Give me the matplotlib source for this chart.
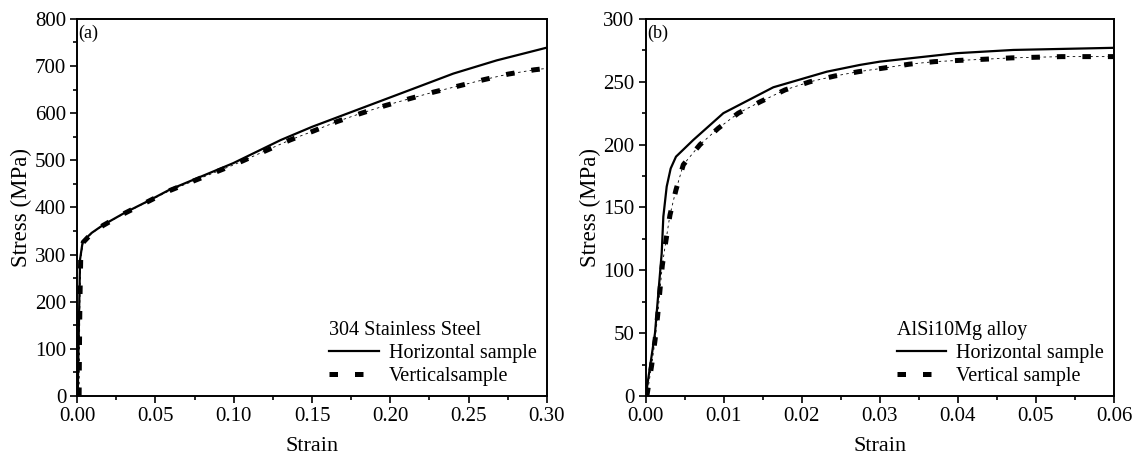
import matplotlib
matplotlib.use("Agg")
import matplotlib.pyplot as plt
from matplotlib.ticker import MultipleLocator, FormatStrFormatter

plt.rcParams["font.family"] = ["Liberation Serif", "DejaVu Serif"]
plt.rcParams["mathtext.fontset"] = "stix"

# === (a) 304 Stainless Steel ===
ss_h_strain = [0.0003, 0.0008, 0.0013, 0.0018, 0.0035, 0.0092, 0.0166, 0.0305, 0.0443,
               0.0592, 0.0997, 0.130, 0.150, 0.2148, 0.2403, 0.268, 0.300]
ss_h_stress = [0, 100, 200, 290, 328, 346, 363, 389, 412,
               438, 494, 543, 571, 652, 684, 712, 739]

ss_v_strain = [0.0012, 0.0014, 0.0017, 0.0022, 0.0038, 0.0092, 0.0166, 0.0305, 0.0443,
               0.0592, 0.0997, 0.1359, 0.1508, 0.1658, 0.1807, 0.1967, 0.2126, 0.228,
               0.244, 0.2597, 0.2755, 0.292, 0.300]
ss_v_stress = [0, 100, 200, 290, 326, 345, 362, 388, 411,
               436, 490, 543, 562, 582, 599, 616, 631, 645,
               658, 671, 683, 692, 695]

# === (b) AlSi10Mg alloy ===
al_h_strain = [0.0, 0.00119, 0.00205, 0.00226, 0.00269, 0.0032, 0.00388, 0.0061, 0.00995,
               0.01635, 0.0232, 0.02746, 0.030, 0.0398, 0.0471, 0.060]
al_h_stress = [0, 50, 113.6, 142.7, 166.6, 181, 190.4, 203.7, 225,
               245.6, 258, 263.4, 266, 272.7, 275.3, 277]

al_v_strain = [0.00015, 0.00077, 0.0012, 0.00154, 0.00183, 0.00213, 0.0026, 0.00311, 0.00388,
               0.00482, 0.00696, 0.0093, 0.01186, 0.01465, 0.01785, 0.02105, 0.02425,
               0.02725, 0.0306, 0.0338, 0.037, 0.0402, 0.0437, 0.0469, 0.0501, 0.0533,
               0.0565, 0.060]
al_v_stress = [0, 24.7, 44.6, 64.5, 84.4, 104, 124, 144, 164,
               184, 200, 213, 225, 234, 243.5, 250, 254.6,
               258, 261, 264, 266, 267, 268, 269, 269.5, 270,
               270, 270]

fig = plt.figure(figsize=(11.36, 4.61), dpi=100)
ax1 = fig.add_axes([0.0680, 0.141, 0.4133, 0.818])
ax2 = fig.add_axes([0.5684, 0.141, 0.4122, 0.818])


def style_axes(ax):
    for sp in ax.spines.values():
        sp.set_linewidth(1.4)
    ax.tick_params(which="both", direction="out", top=False, right=False,
                   labelsize=15, width=1.2, pad=3)
    ax.tick_params(which="major", length=5)
    ax.tick_params(which="minor", length=3)
    ax.set_xlabel("Strain", fontsize=16, labelpad=8)
    ax.set_ylabel("Stress (MPa)", fontsize=16.5, labelpad=2)


def draw_pair(ax, hx, hy, vx, vy, h_label, v_label, title):
    ax.plot(hx, hy, color="black", lw=1.6, label=h_label, zorder=3)
    ax.plot(vx, vy, color="black", lw=0.6, ls=(0, (3, 4)), zorder=2)
    ax.plot(vx, vy, color="black", lw=3.6, ls=(0, (1.7, 3.4)),
            label=v_label, zorder=2)
    leg = ax.legend(loc="lower right", frameon=False, fontsize=14.5,
                    title=title, title_fontsize=14.5, handlelength=2.45,
                    handletextpad=0.5, labelspacing=0.2,
                    borderaxespad=0.2, borderpad=0.3)
    leg._legend_box.align = "left"


# (a)
draw_pair(ax1, ss_h_strain, ss_h_stress, ss_v_strain, ss_v_stress,
          "Horizontal sample", "Verticalsample", "304 Stainless Steel")
ax1.set_xlim(0, 0.30)
ax1.set_ylim(0, 800)
ax1.xaxis.set_major_locator(MultipleLocator(0.05))
ax1.xaxis.set_minor_locator(MultipleLocator(0.025))
ax1.xaxis.set_major_formatter(FormatStrFormatter("%.2f"))
ax1.yaxis.set_major_locator(MultipleLocator(100))
ax1.yaxis.set_minor_locator(MultipleLocator(50))
style_axes(ax1)
ax1.text(0.003, 0.985, "(a)", transform=ax1.transAxes, fontsize=13,
         ha="left", va="top")

# (b)
draw_pair(ax2, al_h_strain, al_h_stress, al_v_strain, al_v_stress,
          "Horizontal sample", "Vertical sample", "AlSi10Mg alloy")
ax2.set_xlim(0, 0.06)
ax2.set_ylim(0, 300)
ax2.xaxis.set_major_locator(MultipleLocator(0.01))
ax2.xaxis.set_minor_locator(MultipleLocator(0.005))
ax2.xaxis.set_major_formatter(FormatStrFormatter("%.2f"))
ax2.yaxis.set_major_locator(MultipleLocator(50))
ax2.yaxis.set_minor_locator(MultipleLocator(25))
style_axes(ax2)
ax2.text(0.003, 0.985, "(b)", transform=ax2.transAxes, fontsize=13,
         ha="left", va="top")

fig.savefig("out.png", dpi=100)
